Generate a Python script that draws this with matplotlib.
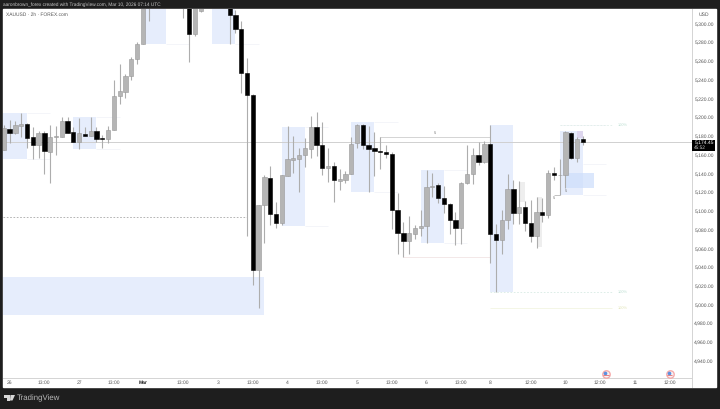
import matplotlib
matplotlib.use('Agg')
import matplotlib.pyplot as plt
from matplotlib.patches import Rectangle, Polygon

W, H = 720, 409
plt.rcParams['font.family'] = ['Liberation Sans', 'DejaVu Sans']
plt.rcParams['text.hinting'] = 'no_hinting'

opens = [5166, 5188, 5184, 5191, 5193, 5180, 5171, 5184, 5164, 5180, 5180, 5197, 5185, 5174, 5183, 5181, 5186,
         5179, 5177, 5187, 5223, 5228, 5245, 5263, 5279, 5325, 5345, 5355, 5350, 5345, 5335, 5345, 5325, 5290,
         5314, 5330, 5340, 5345, 5335, 5335, 5310, 5295, 5248, 5224, 5038, 5107, 5136, 5097, 5088, 5138, 5155,
         5156, 5160, 5167, 5190, 5171, 5147, 5149, 5133, 5134, 5140, 5173, 5192, 5171, 5168, 5165, 5164, 5162,
         5102, 5077, 5069, 5076, 5082, 5085, 5126, 5128, 5115, 5108, 5091, 5083, 5130, 5140, 5160, 5153, 5172,
         5076, 5070, 5091, 5124, 5099, 5105, 5088, 5074, 5100, 5096, 5141, 5139, 5139.5, 5184, 5157, 5177.5]
highs = [5192, 5198, 5197, 5205, 5195, 5190, 5186, 5186, 5192, 5191, 5201, 5201, 5190, 5200, 5190, 5201, 5190,
         5182, 5191, 5240.5, 5258, 5247, 5265, 5281, 5345, 5360, 5365, 5370, 5365, 5360, 5350, 5360, 5340, 5345,
         5350, 5355, 5360, 5360, 5350, 5345, 5315, 5303, 5264, 5226, 5107, 5139, 5149, 5110, 5139, 5191, 5181,
         5168, 5179, 5202, 5206, 5196, 5168, 5153, 5146, 5143, 5180, 5193, 5194, 5191, 5185, 5180, 5171, 5164,
         5120, 5089, 5095, 5086, 5102, 5144, 5141, 5130, 5127, 5109, 5100, 5132, 5171, 5168, 5174, 5175, 5192,
         5087, 5102, 5140, 5134, 5133, 5111, 5112, 5116, 5114, 5144, 5148, 5156, 5186, 5185, 5180, 5181]
lows = [5166, 5173, 5183, 5180, 5168, 5156, 5157, 5140, 5131, 5160, 5180, 5184, 5174, 5167, 5181, 5181, 5174,
        5168, 5173, 5187, 5215, 5221, 5240.5, 5258, 5279, 5303, 5335, 5340, 5335, 5330, 5325, 5307, 5260, 5287.5,
        5313.6, 5325, 5330, 5330, 5325, 5279, 5291, 5227, 5074, 5022, 4997, 5066, 5086, 5083, 5086, 5138, 5141,
        5121, 5148, 5157, 5159, 5139, 5132, 5110, 5123, 5130, 5140, 5168, 5167, 5121, 5138, 5146, 5157, 5081,
        5055, 5052, 5055, 5071, 5074, 5067, 5116, 5109, 5098, 5076, 5064, 5065, 5129, 5129, 5150, 5152, 5045,
        5014, 5055, 5081, 5087, 5087, 5079, 5068, 5061, 5089, 5093, 5134, 5118, 5125, 5156, 5153, 5171]
closes = [5189, 5184, 5192, 5193, 5179, 5171, 5184, 5165, 5180, 5181, 5197, 5184, 5174, 5184, 5181, 5186, 5178,
          5177, 5187, 5223, 5229, 5245, 5263, 5279, 5335, 5345, 5355, 5350, 5345, 5335, 5345, 5325, 5290, 5330,
          5335, 5340, 5345, 5335, 5335, 5310, 5295, 5248, 5224, 5038, 5107, 5137, 5097, 5088, 5139, 5156, 5157,
          5160, 5168, 5190, 5171, 5147, 5149, 5134, 5135, 5140, 5172, 5192, 5171, 5167, 5165, 5164, 5162, 5102,
          5077, 5069, 5077, 5082, 5085, 5126, 5127, 5115, 5108, 5091, 5083, 5130, 5140, 5160, 5153, 5172, 5076,
          5070, 5091, 5124, 5099, 5105, 5088, 5074, 5100, 5096, 5141, 5139, 5139.5, 5185, 5157, 5178, 5174.45]

# zones: first bar, last bar, top price, bottom price
zone_start = [-0.1, 12, 24.4, 36, -0.1, 48, 60, 72, 84, 96]
zone_end = [4, 16, 28, 40, 44.9, 52, 64, 76, 88, 100]
zone_top = [5205.6, 5200.7, 5330, 5330, 5029.8, 5190.7, 5195.4, 5144.4, 5192.5, 5186.4]
zone_bottom = [5155.8, 5166.8, 5278.6, 5279, 4989.9, 5085, 5120.6, 5066.8, 5014.5, 5117.7]

# faint lines running on from the zones: first bar, last bar, price
ext_start = [4, 4, 16, 16, 28, 40, 52, 52, 64, 64, 76, 76, 100, 100, 96]
ext_end = [8, 8, 20, 20, 32, 44, 56, 56, 68, 68, 80, 80, 104, 104, 104]
ext_price = [5205.6, 5155.8, 5200.7, 5166.8, 5278.6, 5279, 5190.7, 5085, 5195.4, 5120.6, 5144.4, 5066.8, 5151, 5118, 5192.5]

price_ticks = [5300, 5280, 5260, 5240, 5220, 5200, 5180, 5160, 5140, 5120, 5100, 5080, 5060, 5040, 5020, 5000, 4980, 4960, 4940]
time_ticks = [1, 7, 13, 19, 24, 31, 37, 43, 49, 55, 61, 67, 73, 79, 84, 91, 97, 103, 109, 115]
time_labels = ['26', '13:00', '27', '13:00', 'Mar', '13:00', '3', '13:00', '4', '13:00', '5', '13:00', '6', '13:00',
               '8', '12:00', '10', '12:00', '11', '12:00']
event_bars = [104, 115]
last_price = 5174.45

fig = plt.figure(figsize=(7.2, 4.09), dpi=100, facecolor='#1e1e1e')


def px_box(x0, y0, x1, y1):
    return [x0 / W, 1 - y1 / H, (x1 - x0) / W, (y1 - y0) / H]


fig.patches.append(Rectangle((3.3 / W, 1 - 387 / H), 712.7 / W, 377.7 / H, transform=fig.transFigure, color='white', zorder=-5))

ax = fig.add_axes(px_box(3.3, 9.3, 691.7, 378.3), facecolor='white')
ax.set_xlim(-0.095, 118.8)
ax.set_ylim(4922, 5316)

# blue zones
for a, b, t, u in zip(zone_start, zone_end, zone_top, zone_bottom):
    ax.add_patch(Rectangle((a, u), b - a, t - u, color='#e6edfc', lw=0, zorder=1))
ax.add_patch(Rectangle((97, 5125.5), 5, 15.5, color='#cfdffb', lw=0, alpha=0.75, zorder=1.2))
ax.add_patch(Rectangle((99, 5179), 1, 7.4, color='#ddd6ee', lw=0, zorder=1.2))
ax.add_patch(Rectangle((89, 5110), 1, 22, color='#eeeeee', lw=0, zorder=1.1))
ax.add_patch(Rectangle((92, 5062), 1, 54, color='#eeeeee', lw=0, zorder=1.1))

ax.hlines(ext_price, ext_start, ext_end, color='#f3f4f8', lw=0.6, zorder=1)
ax.hlines(5014.5, 84, 105, color='#d8ebe4', lw=0.6, linestyles=(0, (2, 2)), zorder=1)
ax.hlines(4997.5, 84, 105, color='#f3f5e2', lw=0.6, zorder=1)
ax.hlines(5192.5, 96, 105, color='#e0eee9', lw=0.6, linestyles=(0, (2, 2)), zorder=1)
ax.text(106, 5014.5, '100%', fontsize=2.8, color='#bfe0d4', va='center')
ax.text(106, 4997.5, '100%', fontsize=2.8, color='#e3e6bb', va='center')
ax.text(106, 5192.5, '100%', fontsize=2.8, color='#bfe0d4', va='center')

# price line, old level and swing lines
ax.axhline(last_price, color='#d0d0d0', lw=0.7, zorder=1.5)
ax.hlines(5094, -0.1, 42, color='#a8a8a8', lw=0.6, linestyles=(0, (2, 2)), zorder=1.5)
ax.hlines(5180, 65, 84, color='#c4c4c4', lw=0.5, zorder=1.5)
ax.plot([65, 65], [5180, 5168], color='#c4c4c4', lw=0.5, zorder=1.5)
ax.hlines(5052, 69, 84, color='#efdede', lw=0.5, zorder=1.5)
ax.hlines(5118, 95, 96, color='#aaaaaa', lw=0.5, zorder=1.5)
ax.text(74.5, 5184, '5', fontsize=2.8, color='#777777', ha='center', va='center')
ax.text(95, 5115, '5', fontsize=2.8, color='#777777', ha='center', va='center')
ax.text(97, 5122, '5', fontsize=2.8, color='#777777', ha='center', va='center')

# candles
for i, (o, h, l, c) in enumerate(zip(opens, highs, lows, closes)):
    ax.vlines(i, l, h, color='#adadad', lw=0.8, zorder=2)
    down = c < o
    ax.bar(i, abs(c - o), bottom=min(o, c), width=0.74, color='black' if down else '#b5b5b5',
           edgecolor='black' if down else '#989898', lw=0.4, zorder=3)

# events
ax.scatter(event_bars, [4927] * 2, s=40, color='#f6a9a9', lw=0, zorder=4, clip_on=False)
ax.scatter(event_bars, [4927] * 2, s=19, color='#f4f4f8', lw=0, zorder=5, clip_on=False)
ax.scatter([b - 0.1 for b in event_bars], [4928] * 2, s=7, color='#5b8fe0', lw=0, zorder=6, clip_on=False)
ax.hlines([4925] * 2, [b - 0.45 for b in event_bars], [b + 0.45 for b in event_bars], color='#e57070', lw=0.6, zorder=6)

ax.yaxis.tick_right()
ax.set_yticks(price_ticks)
ax.set_yticklabels([f'{p:,.2f}' for p in price_ticks])
ax.set_xticks(time_ticks)
ax.set_xticklabels(time_labels)
ax.tick_params(axis='both', length=0, labelsize=3.6, labelcolor='#555555')
ax.tick_params(axis='y', pad=1.9, labelsize=3.6)
ax.tick_params(axis='x', pad=1.6)
ax.get_xticklabels()[4].set_fontweight('bold')
ax.get_xticklabels()[4].set_color('#222222')
for s in ['top', 'left']:
    ax.spines[s].set_visible(False)
for s in ['bottom', 'right']:
    ax.spines[s].set_color('#d4d4d4')
    ax.spines[s].set_linewidth(0.7)

# overlay in pixels: labels, tag and logo
ov = fig.add_axes([0, 0, 1, 1], facecolor='none')
ov.set_xlim(0, W)
ov.set_ylim(H, 0)
ov.axis('off')
ov.plot([691.7, 691.7], [378, 387], color='#d4d4d4', lw=0.7)
ov.text(3.2, 5, 'aaronbrown_forex created with TradingView.com, Mar 10, 2026 07:14 UTC', fontsize=3.45, color='#c8c8c8', va='center')
ov.text(6.3, 15, 'XAUUSD · 2h · FOREX.com', fontsize=3.5, color='#555555', va='center')
ov.text(703.5, 15, 'USD', fontsize=3.6, color='#555555', va='center', ha='center')
ov.add_patch(Rectangle((692, 139.7), 22.5, 11, color='black', lw=0))
ov.text(694.3, 142.6, f'{last_price:,.2f}', fontsize=3.6, color='white', va='center')
ov.text(694.3, 147.8, '45:52', fontsize=3.4, color='#cccccc', va='center')
ov.add_patch(Polygon([(4, 395), (9.5, 395), (9.5, 400.5), (7, 400.5), (7, 397.5), (4, 397.5)], color='#d8d8d8', lw=0))
ov.add_patch(Polygon([(10.5, 395), (15, 395), (12.5, 400.5), (10, 400.5)], color='#d8d8d8', lw=0))
ov.text(17.3, 398.2, 'TradingView', fontsize=5.7, color='#b8b8b8', va='center')

fig.savefig('out.png', dpi=100, facecolor=fig.get_facecolor())
